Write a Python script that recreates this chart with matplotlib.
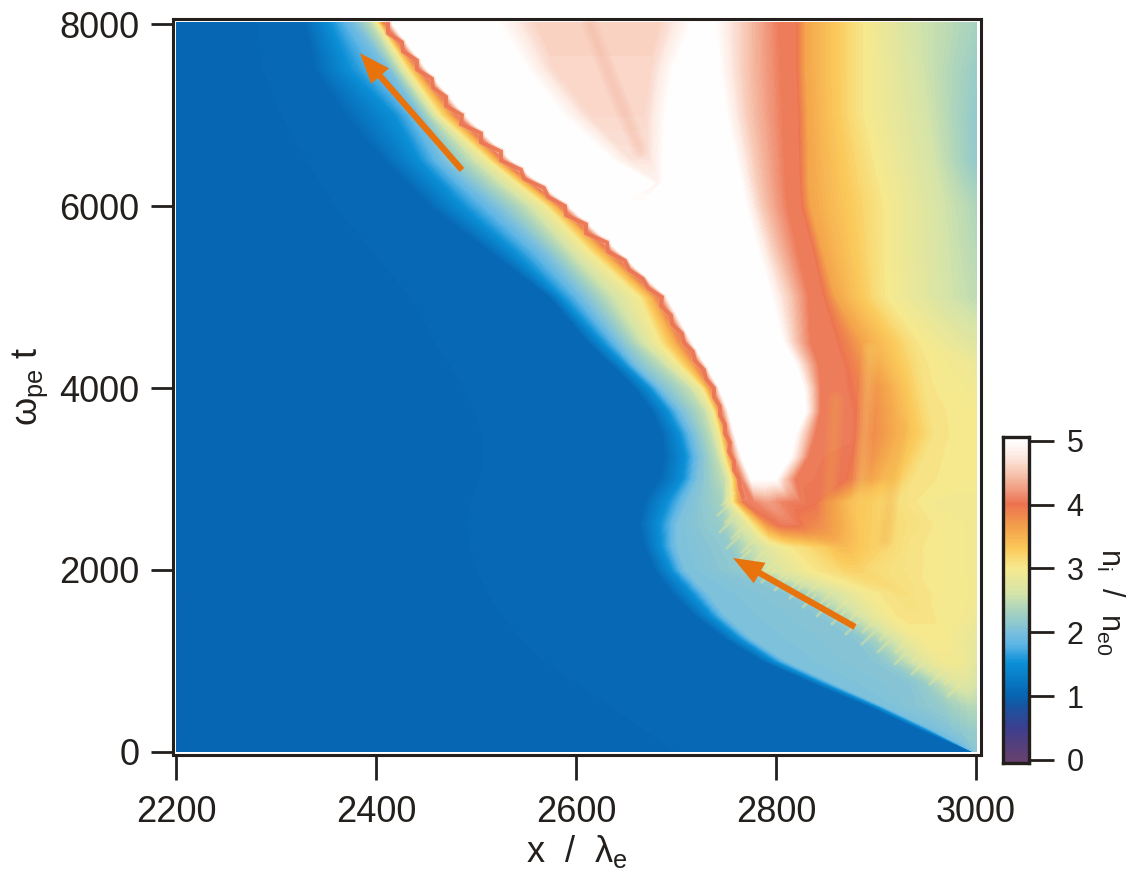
#!/usr/bin/env python3
"""Ion density map n_i / n_e0 in the (x, t) plane with two front-speed arrows."""

import numpy as np
import matplotlib
matplotlib.use('Agg')
import matplotlib.pyplot as plt
from matplotlib.colors import LinearSegmentedColormap

plt.rcParams['font.family'] = ['Liberation Sans', 'DejaVu Sans']
plt.rcParams['mathtext.fontset'] = 'custom'
plt.rcParams['mathtext.rm'] = 'Liberation Sans'
plt.rcParams['mathtext.it'] = 'Liberation Sans'

INK = '#231f1c'
ARROW = '#e8730c'

x_ticks = [2200, 2400, 2600, 2800, 3000]
t_ticks = [0, 2000, 4000, 6000, 8000]
cbar_ticks = [0, 1, 2, 3, 4, 5]

cmap_stops = [
    (0.0, '#66406f'), (0.5, '#3b3f8f'), (0.85, '#1556a3'), (1.0, '#0765b2'),
    (1.5, '#0a8fd6'), (1.8, '#5db5e6'), (2.0, '#7cc0dc'), (2.3, '#a5d2c0'),
    (2.6, '#d6e4a8'), (3.0, '#f6e98f'), (3.3, '#fbc95a'), (3.6, '#f4a54b'),
    (4.0, '#ec7350'), (4.2, '#f0967a'), (4.5, '#f8c8b4'), (4.8, '#fdeee8'),
    (5.0, '#ffffff'),
]

# times of the mesh rows, bottom to top
t_rows = [0, 250, 500, 750, 1000, 1250, 1500, 1750, 2000, 2250, 2500, 2750, 3000,
          3250, 3500, 3750, 4000, 4250, 4500, 5000, 5500, 6000, 6250, 6500, 7000,
          7500, 8020]

# x position of each density feature along a row
x_rows = [
    [2997.0, 2997.2, 2997.4, 2997.6, 2997.8, 2998.0, 2998.2, 2998.4, 2998.6, 2998.8, 2999.0, 2999.2, 2999.4, 2999.6, 2999.8, 3000.0, 3000.2, 3000.4, 3000.6],
    [2944, 2950, 2956, 2964, 2969, 2974, 2977, 2979, 2981, 2983, 2985, 2987, 2989, 2991, 2993, 2995, 2996, 2998, 2999],
    [2894, 2902, 2909, 2944, 2959, 2969, 2974, 2979, 2982, 2984, 2986, 2988, 2990, 2992, 2994, 2995, 2996, 2998, 2999],
    [2839, 2849, 2859, 2939, 2949, 2956, 2962, 2968, 2972, 2976, 2980, 2984, 2987, 2990, 2992, 2994, 2996, 2998, 2999],
    [2787, 2799, 2811, 2904, 2914, 2924, 2932, 2940, 2946, 2952, 2958, 2964, 2969, 2974, 2979, 2984, 2988, 2992, 2996],
    [2749, 2764, 2776, 2884, 2894, 2904, 2914, 2922, 2929, 2936, 2942, 2949, 2954, 2960, 2966, 2972, 2978, 2984, 2992],
    [2719, 2736, 2750, 2849, 2862, 2874, 2884, 2894, 2902, 2909, 2916, 2924, 2929, 2936, 2944, 2954, 2964, 2979, 2989],
    [2696, 2716, 2732, 2814, 2829, 2844, 2856, 2869, 2879, 2889, 2899, 2907, 2914, 2921, 2929, 2939, 2949, 2964, 2984],
    [2679, 2696, 2710, 2764, 2779, 2794, 2809, 2824, 2834, 2844, 2854, 2862, 2869, 2876, 2884, 2894, 2909, 2934, 2969],
    [2669, 2686, 2702, 2754, 2769, 2784, 2796, 2809, 2819, 2829, 2839, 2849, 2856, 2864, 2872, 2884, 2904, 2934, 2969],
    [2664, 2684, 2702, 2744, 2769, 2781, 2791, 2802, 2809, 2814, 2819, 2824, 2829, 2834, 2842, 2859, 2884, 2929, 2969],
    [2669, 2692, 2712, 2746, 2757, 2762, 2769, 2779, 2786, 2792, 2798, 2804, 2814, 2824, 2839, 2859, 2872, 2919, 2964],
    [2684, 2707, 2722, 2749, 2756, 2760, 2766, 2776, 2780, 2784, 2788, 2792, 2799, 2809, 2819, 2869, 2894, 2939, 2997],
    [2689, 2710, 2724, 2742, 2749, 2753, 2757, 2766, 2774, 2784, 2794, 2804, 2814, 2824, 2832, 2874, 2906, 2949, 2997],
    [2686, 2704, 2718, 2736, 2744, 2748, 2752, 2759, 2769, 2780, 2790, 2805, 2819, 2829, 2839, 2874, 2914, 2959, 2997],
    [2676, 2692, 2706, 2729, 2738, 2742, 2746, 2753, 2765, 2780, 2795, 2812, 2829, 2837, 2844, 2874, 2912, 2954, 2997],
    [2659, 2674, 2686, 2714, 2727, 2732, 2737, 2744, 2759, 2775, 2790, 2810, 2827, 2836, 2844, 2869, 2909, 2949, 2997],
    [2636, 2650, 2662, 2689, 2704, 2716, 2724, 2731, 2749, 2765, 2785, 2805, 2819, 2830, 2842, 2866, 2896, 2946, 2996],
    [2612, 2627, 2644, 2664, 2684, 2699, 2710, 2717, 2734, 2750, 2770, 2790, 2806, 2819, 2834, 2859, 2886, 2939, 2989],
    [2574, 2586, 2609, 2634, 2664, 2676, 2684, 2692, 2704, 2724, 2744, 2764, 2794, 2814, 2832, 2846, 2859, 2906, 2969],
    [2514, 2539, 2569, 2592, 2614, 2627, 2636, 2644, 2674, 2694, 2714, 2734, 2781, 2799, 2821, 2836, 2846, 2904, 2967],
    [2454, 2487, 2521, 2551, 2571, 2580, 2586, 2594, 2624, 2644, 2664, 2684, 2769, 2786, 2811, 2824, 2834, 2904, 2964],
    [2432, 2466, 2494, 2522, 2542, 2551, 2557, 2565, 2676, 2681, 2683, 2688, 2764, 2782, 2809, 2823, 2832, 2899, 2960],
    [2409, 2444, 2470, 2497, 2514, 2522, 2529, 2537, 2634, 2654, 2674, 2689, 2759, 2779, 2808, 2822, 2832, 2894, 2956],
    [2369, 2419, 2444, 2456, 2464, 2474, 2482, 2490, 2584, 2614, 2669, 2692, 2749, 2772, 2806, 2821, 2831, 2884, 2949],
    [2339, 2374, 2414, 2424, 2432, 2439, 2445, 2452, 2549, 2579, 2674, 2699, 2742, 2769, 2804, 2819, 2829, 2884, 2942],
    [2329, 2354, 2379, 2396, 2402, 2405, 2409, 2416, 2519, 2559, 2684, 2719, 2737, 2769, 2802, 2819, 2829, 2884, 2936],
]

# density at those features, same shape as x_rows
n_rows = [
    [1.05, 1.5, 1.8, 1.9, 1.95, 2.0, 2.0, 2.05, 2.05, 2.05, 2.05, 2.1, 2.1, 2.1, 2.1, 2.1, 2.1, 2.1, 2.1],
    [1.05, 1.5, 1.95, 2.0, 2.05, 2.05, 2.1, 2.1, 2.1, 2.1, 2.15, 2.15, 2.15, 2.15, 2.2, 2.2, 2.2, 2.2, 2.2],
    [1.05, 1.5, 2.0, 2.1, 2.15, 2.2, 2.25, 2.3, 2.3, 2.3, 2.35, 2.35, 2.35, 2.4, 2.4, 2.4, 2.4, 2.4, 2.4],
    [1.05, 1.5, 2.0, 2.1, 2.2, 2.3, 2.4, 2.5, 2.55, 2.6, 2.65, 2.7, 2.7, 2.7, 2.7, 2.7, 2.65, 2.65, 2.6],
    [1.05, 1.5, 2.0, 2.1, 2.2, 2.35, 2.5, 2.6, 2.7, 2.8, 2.85, 2.9, 2.95, 2.95, 2.95, 2.9, 2.9, 2.85, 2.8],
    [1.05, 1.5, 2.0, 2.1, 2.25, 2.4, 2.55, 2.7, 2.8, 2.9, 2.95, 3.0, 3.0, 3.0, 3.0, 3.0, 2.95, 2.9, 2.85],
    [1.05, 1.5, 2.0, 2.1, 2.3, 2.45, 2.6, 2.75, 2.85, 2.95, 3.0, 3.05, 3.05, 3.05, 3.05, 3.05, 3.0, 3.0, 2.95],
    [1.05, 1.5, 2.0, 2.1, 2.3, 2.5, 2.6, 2.75, 2.85, 2.95, 3.0, 3.05, 3.05, 3.1, 3.1, 3.05, 3.05, 3.0, 3.0],
    [1.05, 1.5, 2.0, 2.15, 2.4, 2.6, 2.75, 2.9, 3.0, 3.05, 3.1, 3.15, 3.2, 3.2, 3.2, 3.15, 3.1, 3.05, 3.0],
    [1.05, 1.5, 2.0, 2.15, 2.4, 2.6, 2.8, 2.95, 3.05, 3.1, 3.2, 3.25, 3.35, 3.4, 3.4, 3.3, 3.2, 3.05, 3.0],
    [1.05, 1.5, 2.0, 2.2, 2.7, 3.2, 3.7, 4.0, 4.05, 4.05, 4.05, 4.0, 3.9, 3.85, 3.8, 3.6, 3.3, 3.1, 3.0],
    [1.05, 1.5, 2.0, 2.3, 3.0, 3.5, 4.05, 4.1, 4.2, 4.25, 4.2, 4.1, 4.05, 4.05, 4.0, 3.6, 3.4, 3.1, 2.95],
    [1.05, 1.5, 2.0, 2.5, 3.0, 3.5, 4.05, 5.0, 5.0, 5.0, 5.0, 5.0, 5.0, 4.5, 4.05, 4.0, 3.6, 3.05, 3.0],
    [1.05, 1.5, 2.0, 2.5, 3.0, 3.5, 4.05, 5.0, 5.0, 5.0, 5.0, 5.0, 5.0, 4.5, 4.05, 4.0, 3.6, 3.05, 3.0],
    [1.05, 1.5, 2.0, 2.5, 3.0, 3.5, 4.05, 5.0, 5.0, 5.0, 5.0, 5.0, 5.0, 4.5, 4.05, 4.05, 3.6, 3.05, 3.0],
    [1.05, 1.5, 2.0, 2.5, 3.0, 3.5, 4.05, 5.0, 5.0, 5.0, 5.0, 5.0, 5.0, 4.5, 4.05, 4.05, 3.6, 3.05, 3.0],
    [1.05, 1.5, 2.0, 2.5, 3.0, 3.5, 4.05, 5.0, 5.0, 5.0, 5.0, 5.0, 5.0, 4.5, 4.05, 4.05, 3.6, 3.05, 2.95],
    [1.05, 1.5, 2.0, 2.5, 3.0, 3.5, 4.05, 5.0, 5.0, 5.0, 5.0, 5.0, 5.0, 4.5, 4.05, 4.05, 3.6, 3.05, 2.9],
    [1.05, 1.5, 2.0, 2.5, 3.0, 3.5, 4.05, 5.0, 5.0, 5.0, 5.0, 5.0, 5.0, 4.5, 4.05, 4.05, 3.6, 3.05, 2.75],
    [1.05, 1.5, 2.0, 2.5, 3.0, 3.5, 4.05, 5.0, 5.0, 5.0, 5.0, 5.0, 5.0, 4.5, 4.05, 4.05, 3.6, 3.05, 2.6],
    [1.05, 1.5, 2.0, 2.5, 3.0, 3.5, 4.05, 5.0, 5.0, 5.0, 5.0, 5.0, 5.0, 4.5, 4.05, 4.05, 3.6, 3.05, 2.6],
    [1.05, 1.5, 2.0, 2.5, 3.0, 3.5, 4.05, 5.0, 5.0, 5.0, 5.0, 5.0, 5.0, 4.5, 4.05, 4.05, 3.6, 3.05, 2.6],
    [1.05, 1.5, 2.0, 2.5, 3.0, 3.5, 4.05, 5.0, 5.0, 4.88, 4.88, 5.0, 5.0, 4.5, 4.05, 4.05, 3.6, 3.05, 2.6],
    [1.05, 1.5, 2.0, 2.5, 3.0, 3.5, 4.05, 5.0, 5.0, 4.72, 4.72, 5.0, 5.0, 4.5, 4.05, 4.05, 3.6, 3.05, 2.6],
    [1.05, 1.5, 2.0, 2.5, 3.0, 3.5, 4.05, 5.0, 5.0, 4.62, 4.62, 5.0, 5.0, 4.5, 4.05, 4.05, 3.6, 3.05, 2.6],
    [1.05, 1.5, 2.0, 2.5, 3.0, 3.5, 4.05, 5.0, 5.0, 4.6, 4.6, 5.0, 5.0, 4.5, 4.05, 4.05, 3.6, 3.05, 2.6],
    [1.05, 1.5, 2.0, 2.5, 3.0, 3.5, 4.05, 5.0, 5.0, 4.58, 4.58, 5.0, 5.0, 4.5, 4.05, 4.05, 3.6, 3.05, 2.6],
]

# density at the right-hand edge of the box, one per row
n_edge = [2.1, 2.2, 2.4, 2.6, 2.75, 2.8, 2.9, 2.95, 2.95, 2.95, 2.95, 2.95, 3.0,
          3.0, 3.0, 3.0, 2.9, 2.85, 2.7, 2.45, 2.4, 2.35, 2.25, 2.15, 2.15, 2.2, 2.3]

# ragged crest of the shock front
ridge_t = [2800, 2900, 3000, 3100, 3200, 3300, 3400, 3500, 3600, 3700, 3800, 3900, 4000,
           4100, 4200, 4300, 4400, 4500, 4600, 4700, 4800, 4900, 5000, 5100, 5200, 5300,
           5400, 5500, 5600, 5700, 5800, 5900, 6000, 6100, 6200, 6300, 6400, 6500, 6600,
           6700, 6800, 6900, 7000, 7100, 7200, 7300, 7400, 7500, 7600, 7700, 7800, 7900, 8000]
ridge_x = [2767, 2764, 2763, 2758, 2758, 2753, 2754, 2749, 2749, 2744, 2744, 2738, 2738,
           2730, 2728, 2719, 2717, 2708, 2706, 2696, 2695, 2685, 2686, 2672, 2667, 2653,
           2649, 2632, 2631, 2610, 2610, 2590, 2589, 2572, 2568, 2548, 2545, 2525, 2525,
           2505, 2505, 2485, 2486, 2470, 2470, 2457, 2456, 2441, 2441, 2427, 2426, 2412, 2412]

# tips of the short feathers on the edge of the yellow region
feather_x = [2746, 2742, 2750, 2744, 2756, 2751, 2766, 2762, 2777, 2774, 2789, 2786, 2802,
             2799, 2816, 2814, 2830, 2827, 2844, 2841, 2859, 2856, 2872, 2870, 2887, 2886,
             2904, 2902, 2920, 2919, 2936, 2936, 2952, 2954, 2969, 2972]
feather_t = [2714, 2604, 2527, 2418, 2352, 2242, 2198, 2088, 2077, 1967, 1978, 1868, 1890,
             1780, 1802, 1692, 1714, 1593, 1626, 1495, 1538, 1407, 1429, 1297, 1319, 1187,
             1231, 1099, 1099, 967, 989, 857, 879, 747, 747, 615]

# soft streaks in the hot part of the map
streak_x = [[2614, 2639, 2664], [2860, 2857, 2852], [2924, 2909], [2894, 2884]]
streak_t = [[7989, 7275, 6615], [3868, 3319, 2714], [3604, 2330], [4418, 2769]]
streak_n = [4.35, 3.6, 3.5, 3.2]

# tail and head of the two arrows
arrow_tails = [(2486, 6396), (2879, 1374)]
arrow_heads = [(2384, 7681), (2757, 2132)]


def px_axes(fig, left, top, right, bottom):
    """Add axes from pixel edges measured from the top-left corner."""
    w, h = fig.canvas.get_width_height()
    return fig.add_axes([left / w, 1 - bottom / h, (right - left) / w, (bottom - top) / h])


def main():
    fig = plt.figure(figsize=(11.34, 8.69), dpi=100)
    cmap = LinearSegmentedColormap.from_list(
        'density', [(v / 5.0, c) for v, c in cmap_stops], N=512)

    ax = px_axes(fig, 173, 19, 981, 755)

    xs = np.array(x_rows, dtype=float)
    n = np.array(n_rows, dtype=float)
    times = np.array(t_rows, dtype=float)
    X = np.column_stack([np.full(len(times), 2200.0), xs, np.full(len(times), 3001.0)])
    Z = np.column_stack([np.full(len(times), 1.0), n, np.array(n_edge)])
    Y = np.repeat(times[:, None], X.shape[1], axis=1)

    ax.contourf(X, Y, Z, levels=np.linspace(0, 5.001, 161), cmap=cmap, vmin=0, vmax=5)

    # stacked faint strokes so the streaks have no hard edge
    for sx, st, sn in zip(streak_x, streak_t, streak_n):
        for lw in (12, 8, 4):
            ax.plot(sx, st, color=cmap(sn / 5.0), lw=lw, alpha=0.13, solid_capstyle='round')

    for fx, ft in zip(feather_x, feather_t):
        ax.plot([fx, fx + 12], [ft, ft + 130], color=cmap(2.9 / 5.0), lw=2.0, alpha=0.4)

    ax.plot(ridge_x, ridge_t, color=cmap(4.3 / 5.0), lw=5.0, solid_joinstyle='miter', alpha=0.3)
    ax.plot(ridge_x, ridge_t, color=cmap(4.02 / 5.0), lw=2.8, solid_joinstyle='miter', alpha=0.95)

    for tail, head in zip(arrow_tails, arrow_heads):
        ax.annotate('', xy=head, xytext=tail,
                    arrowprops=dict(facecolor=ARROW, edgecolor=ARROW, width=4.5,
                                    headwidth=17, headlength=22, shrink=0, linewidth=0))

    ax.set_xlim(2197, 3005)
    ax.set_ylim(-33, 8055)
    ax.set_xticks(x_ticks)
    ax.set_yticks(t_ticks)
    ax.tick_params(axis='x', length=18, width=2.0, color=INK, labelcolor=INK, labelsize=26, pad=11)
    ax.tick_params(axis='y', length=16, width=2.0, color=INK, labelcolor=INK, labelsize=26, pad=8)
    for spine in ax.spines.values():
        spine.set_linewidth(2.2)
        spine.set_color(INK)

    fig.text(577 / 1134, 1 - 851 / 869, r'$\mathregular{x\ \ /\ \ \lambda_e}$', fontsize=26,
             color=INK, ha='center', va='center')
    fig.text(30 / 1134, 1 - 386 / 869, r'$\mathregular{\omega_{pe}\ t}$', fontsize=26,
             color=INK, ha='center', va='center', rotation=90)

    cax = px_axes(fig, 1003, 437, 1029, 763)
    levels = np.linspace(-0.1, 5.1, 261)
    cax.pcolormesh([0, 1], levels, np.column_stack([levels[:-1]]), cmap=cmap, vmin=0, vmax=5)
    cax.set_ylim(-0.05, 5.06)
    cax.set_xticks([])
    cax.yaxis.tick_right()
    cax.set_yticks(cbar_ticks)
    cax.tick_params(axis='y', length=18, width=2.0, color=INK, labelcolor=INK, labelsize=22, pad=9)
    for spine in cax.spines.values():
        spine.set_linewidth(2.4)
        spine.set_color(INK)

    fig.text(1110 / 1134, 1 - 602 / 869, r'$\mathregular{n_i\ \ /\ \ n_{e0}}$', fontsize=22,
             color=INK, ha='center', va='center', rotation=270)

    fig.savefig('out.png', dpi=100)
    plt.close(fig)


if __name__ == "__main__":
    main()
